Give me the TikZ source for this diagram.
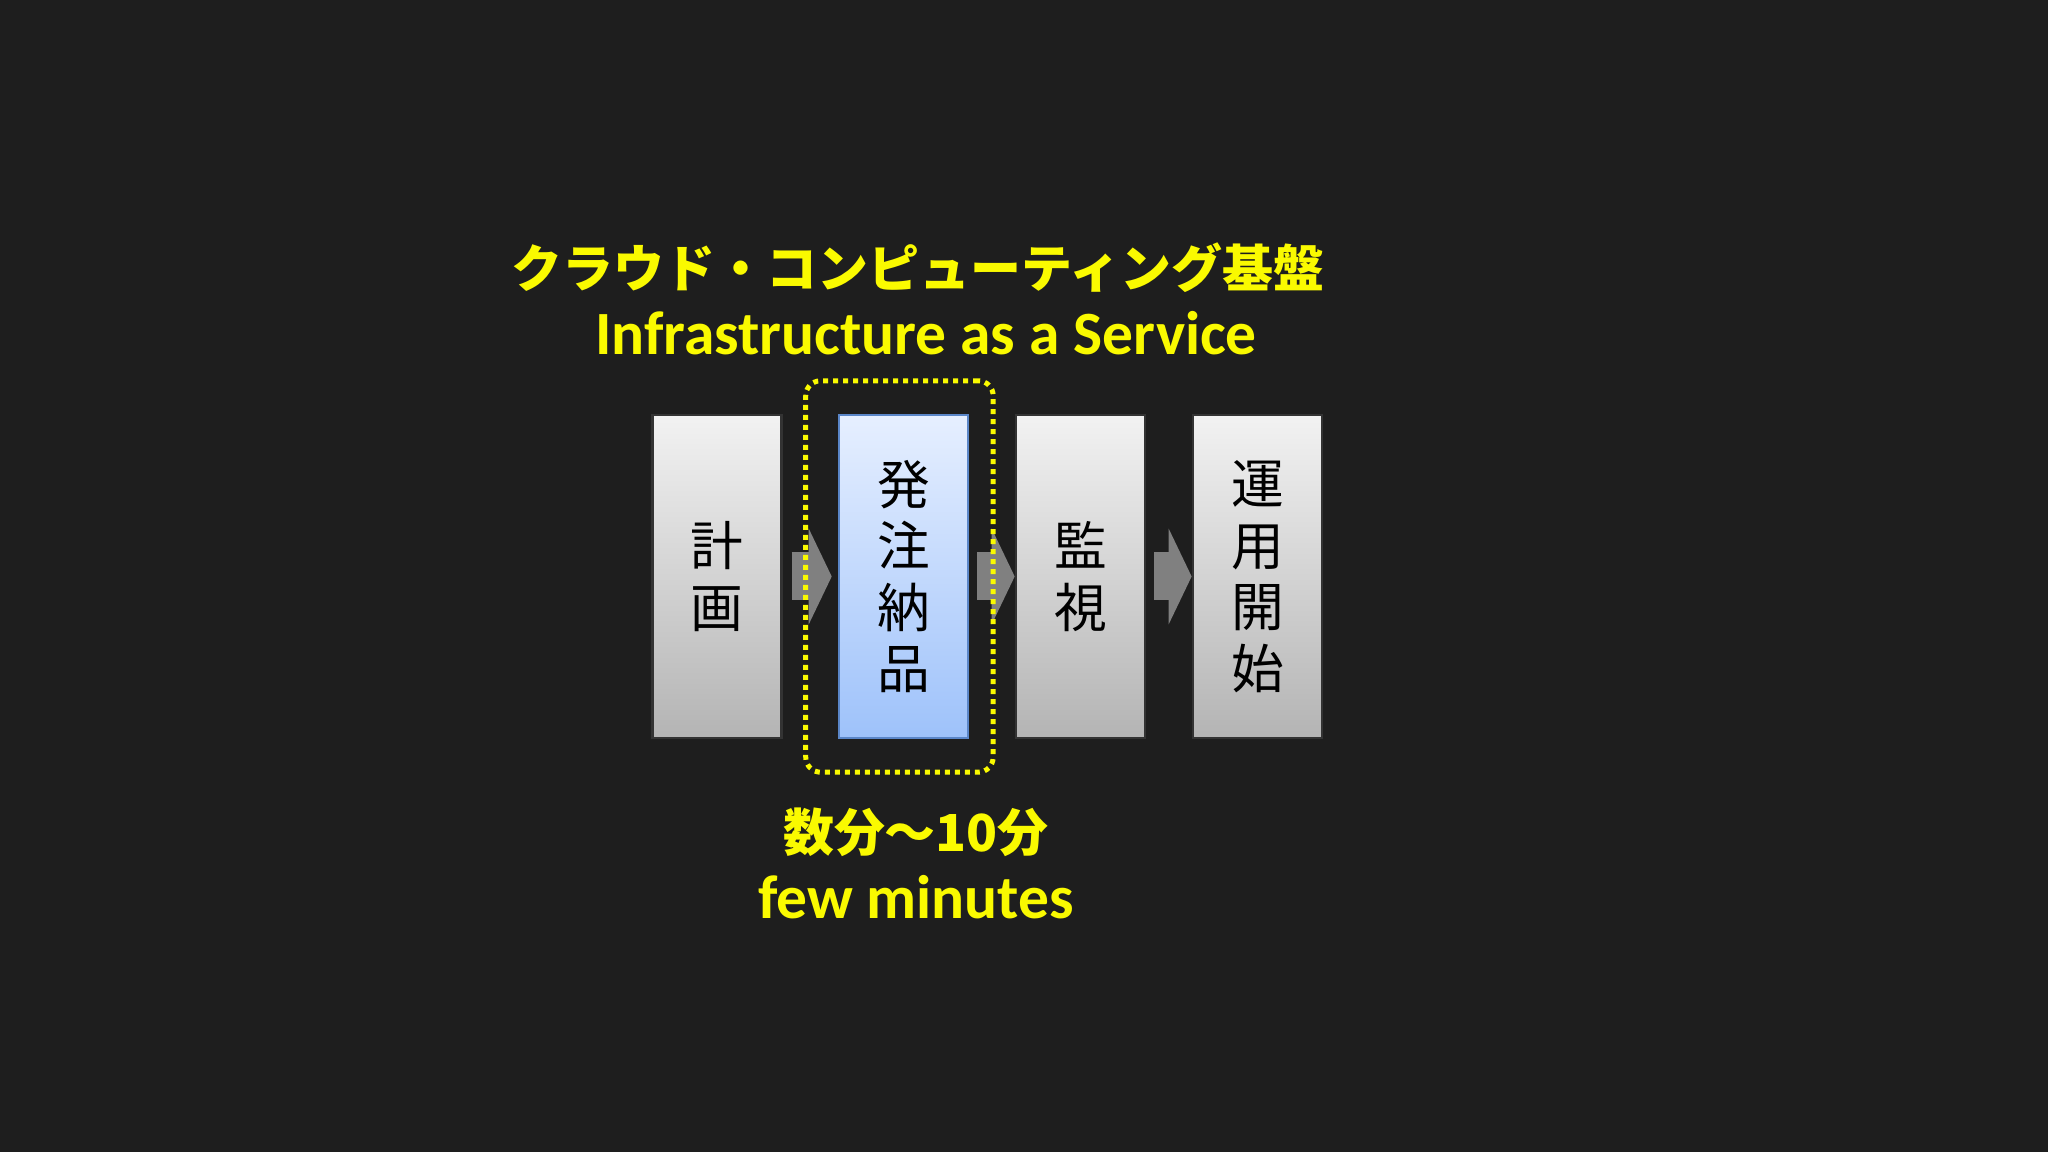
\documentclass[tikz,border=0pt]{standalone}
\usepackage{fontspec}
\usepackage{graphicx}
\usetikzlibrary{positioning,arrows.meta,fit}

\newfontfamily\jpfont{Noto Sans CJK JP}
\newfontfamily\latinfont{Carlito}

\definecolor{bgdark}{RGB}{30,30,30}
\definecolor{hiyellow}{RGB}{250,250,0}
\definecolor{flowgray}{RGB}{128,128,128}
\definecolor{boxtop}{RGB}{242,242,242}
\definecolor{boxbottom}{RGB}{180,180,180}
\definecolor{bluetop}{RGB}{230,239,255}
\definecolor{bluebottom}{RGB}{158,194,250}
\definecolor{blueline}{RGB}{90,134,200}

\begin{document}
\begin{tikzpicture}[
  stage/.style={shape=rectangle, minimum width=1.29cm, minimum height=3.23cm,
    draw=black!80, line width=0.7pt, top color=boxtop, bottom color=boxbottom,
    align=center, text=black, font=\jpfont\fontsize{15}{17.5}\selectfont},
  active/.style={stage, draw=blueline, top color=bluetop, bottom color=bluebottom},
  flow/.style={draw=flowgray, line width=0.48cm, -{Triangle[width=0.95cm,length=0.23cm]}},
  frame/.style={draw=hiyellow, line width=0.05cm, dash pattern=on 0.05cm off 0.05cm,
    rounded corners=0.15cm, inner xsep=0.28cm, inner ysep=0.33cm},
  jplabel/.style={text=hiyellow, font=\jpfont\bfseries\fontsize{14.5}{17}\selectfont},
  enlabel/.style={text=hiyellow, font=\latinfont\bfseries\fontsize{17.5}{20}\selectfont}
]
\fill[bgdark] (0,0) rectangle (20.48,11.52);
\useasboundingbox (0,0) rectangle (20.48,11.52);

% steps
\path (7.17,5.755) node (plan) [stage] {計\\画};
\node (order) [active, right=0.55cm of plan] {発\\注\\納\\品};
\node (watch) [stage, right=0.455cm of order] {監\\視};
\node (start) [stage, right=0.455cm of watch] {運\\用\\開\\始};

% arrows
\draw[flow] ([xshift=0.09cm]plan.east) -- ([xshift=-0.06cm]order.west);
\draw[flow] ([xshift=0.08cm]order.east) -- (watch.west);
\draw[flow] ([xshift=0.08cm]watch.east) -- (start.west);

\node (iaas) [frame, fit=(order), xshift=-0.04cm] {};

% labels
\path (9.18,8.84) node (titlejp) [jplabel] {クラウド・コンピューティング基盤};
\path (9.26,8.19) node (titleen) [enlabel] {Infrastructure as a Service};
\path (9.16,3.20) node (timejp) [jplabel] {数分〜10分};
\path (9.16,2.55) node (timeen) [enlabel] {few minutes};

\end{tikzpicture}
\end{document}
